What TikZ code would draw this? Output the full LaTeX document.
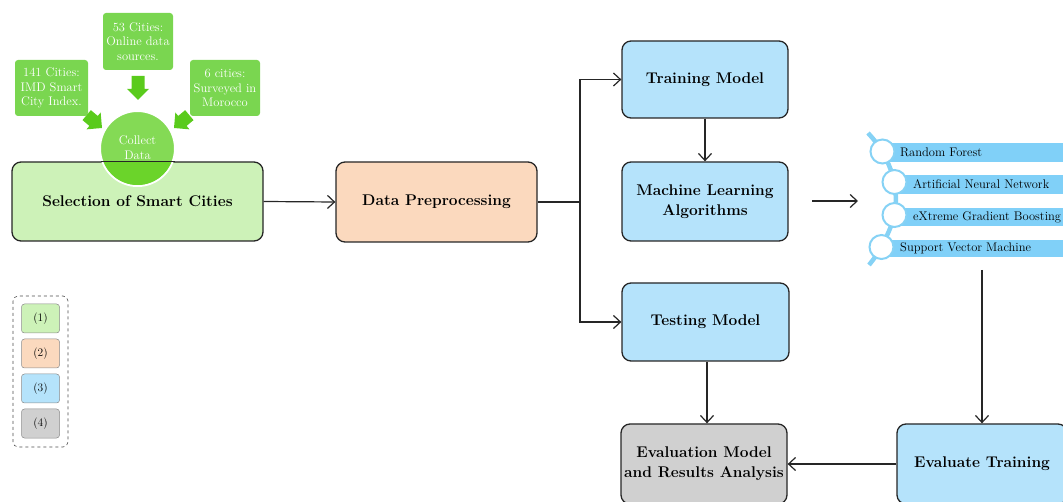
\documentclass[tikz,border=0pt]{standalone}
\usetikzlibrary{arrows.meta,calc}
\definecolor{selgreen}{HTML}{CDF2B8}
\definecolor{peach}{HTML}{FBD9BE}
\definecolor{lblue}{HTML}{B5E3FB}
\definecolor{lgrey}{HTML}{D0D0D0}
\definecolor{boxgreen}{HTML}{7AD650}
\definecolor{cgreen}{HTML}{84DA55}
\definecolor{cgreendark}{HTML}{6BD42A}
\definecolor{arrgreen}{HTML}{5ACB1C}
\definecolor{barblue}{HTML}{80D0F8}
\definecolor{spineblue}{HTML}{86D2F5}
\begin{document}
\begin{tikzpicture}[x=1pt,y=-1pt,
  mainbox/.style={draw=black!85, line width=1.3pt, rounded corners=9pt, align=center,
    font=\bfseries\fontsize{15.5}{20}\selectfont, inner sep=2pt},
  srcbox/.style={fill=boxgreen, rounded corners=3pt, align=center, text=white,
    font=\fontsize{12.5}{14.5}\selectfont, inner sep=1pt},
  legbox/.style={draw=black!45, line width=0.5pt, rounded corners=3pt,
    minimum width=38pt, minimum height=29pt, font=\fontsize{11.5}{13}\selectfont},
  conn/.style={draw=black!85, line width=1.2pt, -{Straight Barb[length=7pt,width=13pt]}},
  plain/.style={draw=black!85, line width=1.2pt},
  listtext/.style={anchor=west, font=\fontsize{12.5}{14}\selectfont, inner sep=0pt},
  garrow/.style={fill=arrgreen}
]
\useasboundingbox (0,0) rectangle (1063,502);

% main boxes
\node[mainbox, fill=selgreen, minimum width=251pt, minimum height=79pt] (sel) at (137.5,201.5) {Selection of Smart Cities};
\node[mainbox, fill=peach, minimum width=201pt, minimum height=80pt] (pre) at (436.5,202) {Data Preprocessing};
\node[mainbox, fill=lblue, minimum width=166pt, minimum height=77pt] (train) at (705,79.5) {Training Model};
\node[mainbox, fill=lblue, minimum width=166pt, minimum height=79pt] (ml) at (705,201.5) {Machine Learning\\Algorithms};
\node[mainbox, fill=lblue, minimum width=167pt, minimum height=78pt] (test) at (705.5,322) {Testing Model};
\node[mainbox, fill=lgrey, minimum width=166pt, minimum height=80pt] (evm) at (704,464) {Evaluation Model\\and Results Analysis};
\node[mainbox, fill=lblue, minimum width=170pt, minimum height=80pt] (evt) at (982,464) {Evaluate Training};

% source boxes
\node[srcbox, minimum width=73pt, minimum height=56pt] (s141) at (51.5,88) {141 Cities:\\IMD Smart\\City Index.};
\node[srcbox, minimum width=70pt, minimum height=57pt] (s53) at (138,41.5) {53 Cities:\\Online data\\sources.};
\node[srcbox, minimum width=70pt, minimum height=56pt] (s6) at (225,88) {6 cities:\\Surveyed in\\Morocco};

% green block arrows
\fill[garrow, shift={(138,100)}, rotate=-90] (0,0) -- (-11,-11) -- (-11,-6.5) -- (-24,-6.5) -- (-24,6.5) -- (-11,6.5) -- (-11,11) -- cycle;
\fill[garrow, shift={(102,128)}, rotate=-40] (0,0) -- (-11,-11) -- (-11,-6.5) -- (-20,-6.5) -- (-20,6.5) -- (-11,6.5) -- (-11,11) -- cycle;
\fill[garrow, shift={(174,128)}, rotate=-140] (0,0) -- (-11,-11) -- (-11,-6.5) -- (-20,-6.5) -- (-20,6.5) -- (-11,6.5) -- (-11,11) -- cycle;

% collect data circle
\node[circle, fill=cgreen, draw=white, line width=2pt, minimum size=75pt, inner sep=0pt] (collect) at (137.5,148.5) {};
\begin{scope}
  \clip (90,162.5) rectangle (190,200);
  \fill[cgreendark] (collect.center) circle[radius=36.5pt];
\end{scope}
\draw[black!85, line width=1.3pt] ($(collect.west |- sel.north)+(1.5,0)$) -- ($(collect.east |- sel.north)+(-1.5,0)$);
\node[align=center, text=white, font=\fontsize{12.5}{15}\selectfont] (ctext) at (137.5,148) {Collect\\Data};

% connectors
\draw[conn] (sel.east) -- (pre.west);
\coordinate (split) at (580,202);
\draw[plain] (pre.east) -- (split);
\draw[conn] (split) |- (train.west);
\draw[conn] (split) |- (test.west);
\draw[conn] (train.south) -- (ml.north);
\draw[conn] ([xshift=1.5pt]test.south) -- ([xshift=3pt]evm.north);
\draw[conn] (evt.west) -- (evm.east);

% algorithm list
\coordinate (lstart) at (812,201);
\coordinate (lend) at (858,201);
\draw[conn] (lstart) -- (lend);
\draw[spineblue, line width=4.5pt] plot[smooth] coordinates {(868,133) (882.5,151.5) (894.5,182) (894.5,215) (881.5,247) (869,265)};
\fill[barblue] (882,143) rectangle (1070,162);
\fill[barblue] (894,175) rectangle (1070,194);
\fill[barblue] (894,208) rectangle (1070,226);
\fill[barblue] (881,240) rectangle (1070,257);
\node[circle, fill=white, draw=spineblue, line width=2pt, minimum size=24pt, inner sep=0pt] (c1) at (882.5,151.5) {};
\node[circle, fill=white, draw=spineblue, line width=2pt, minimum size=24pt, inner sep=0pt] (c2) at (894.5,182) {};
\node[circle, fill=white, draw=spineblue, line width=2pt, minimum size=24pt, inner sep=0pt] (c3) at (894.5,215) {};
\node[circle, fill=white, draw=spineblue, line width=2pt, minimum size=24pt, inner sep=0pt] (c4) at (881.5,247) {};
\node[listtext] (t1) at (900,152.5) {Random Forest};
\node[listtext] (t2) at (913,184.5) {Artificial Neural Network};
\node[listtext] (t3) at (913,217) {eXtreme Gradient Boosting};
\node[listtext] (t4) at (900,248.5) {Support Vector Machine};
\coordinate (ldown) at (982,270);
\draw[conn] (ldown) -- (evt.north);

% legend
\draw[black!70, dashed, line width=0.6pt, rounded corners=5pt] (13,296) rectangle (68,447);
\node[legbox, fill=selgreen] (l1) at (40.5,318.5) {(1)};
\node[legbox, fill=peach] (l2) at (40.5,353.5) {(2)};
\node[legbox, fill=lblue] (l3) at (40.5,388.5) {(3)};
\node[legbox, fill=lgrey] (l4) at (40.5,423.5) {(4)};
\end{tikzpicture}
\end{document}
